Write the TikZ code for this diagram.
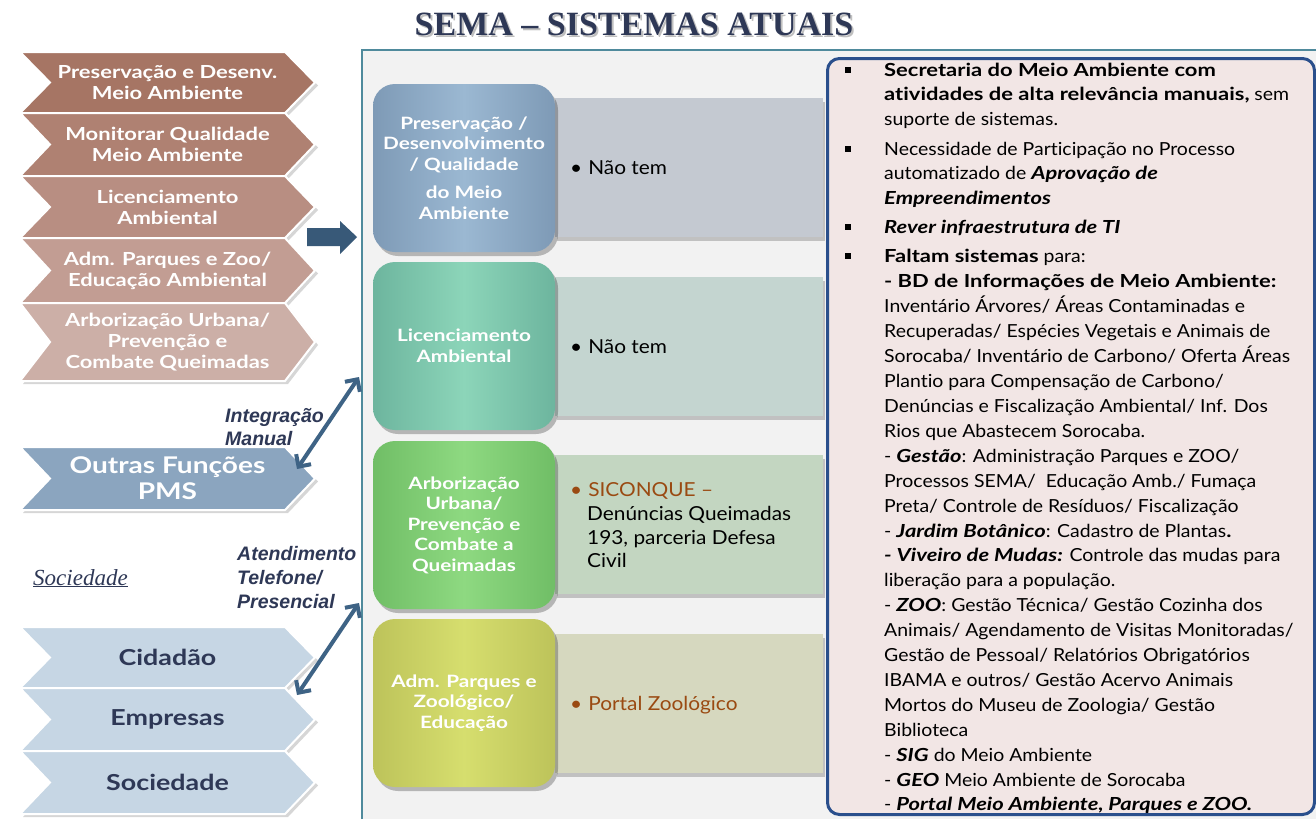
\documentclass[tikz,border=0pt]{standalone}
\usepackage{fontspec}
\setmainfont{Lato}[Ligatures=NoCommon, FakeStretch=1.08, BoldFeatures={FakeStretch=1.22}, BoldItalicFeatures={FakeStretch=1.22}]
\newfontfamily\arialf{Liberation Sans}
\newfontfamily\timesf{Liberation Serif}
\usetikzlibrary{shadows,arrows.meta}
\definecolor{ch1}{HTML}{A67564}
\definecolor{ch2}{HTML}{AF8172}
\definecolor{ch3}{HTML}{B88E82}
\definecolor{ch4}{HTML}{C29D93}
\definecolor{ch5}{HTML}{CCAFA7}
\definecolor{outc}{HTML}{8BA5BF}
\definecolor{lowc}{HTML}{C6D6E4}
\definecolor{navy}{HTML}{2E3856}
\definecolor{arrc}{HTML}{3E6385}
\definecolor{framec}{HTML}{4F8A9C}
\definecolor{boxbd}{HTML}{2A4F8C}
\definecolor{boxbg}{HTML}{F2E6E5}
\definecolor{brownt}{HTML}{9A4A12}
\definecolor{barA}{HTML}{C4C9D1}
\definecolor{barB}{HTML}{C4D5D0}
\definecolor{barC}{HTML}{C3D6C1}
\definecolor{barD}{HTML}{D6D8BF}
\definecolor{s1a}{HTML}{7E9AB6}
\definecolor{s1b}{HTML}{9BB8D2}
\definecolor{s2a}{HTML}{6DB59E}
\definecolor{s2b}{HTML}{8CD5B9}
\definecolor{s3a}{HTML}{70BE66}
\definecolor{s3b}{HTML}{8ED981}
\definecolor{s4a}{HTML}{BDC35A}
\definecolor{s4b}{HTML}{D6DE6E}
\tikzset{
  chevtxt/.style={inner sep=0pt, text=white, align=center, font=\fontsize{18}{21}\selectfont\bfseries},
  chevshape/.style={draw=white, line width=2pt},
  chevshadow/.style={fill=black, opacity=0.16},
  sq/.style={rectangle, rounded corners=22pt, minimum width=182pt, minimum height=168pt,
    inner sep=0pt, align=center, text=white, font=\fontsize{17}{20.5}\selectfont\bfseries,
    drop shadow={shadow xshift=3pt, shadow yshift=-4pt, fill=black, opacity=0.25}},
  bar/.style={rectangle, minimum width=268pt, minimum height=139pt, inner sep=0pt,
    drop shadow={shadow xshift=2pt, shadow yshift=-4pt, fill=black, opacity=0.2}},
  bartxt/.style={anchor=base west, inner sep=0pt, font=\fontsize{19.3}{23}\selectfont, align=left},
  rtxt/.style={anchor=base west, inner sep=0pt, font=\fontsize{18}{21}\selectfont},
  lbl/.style={anchor=base west, inner sep=0pt, text=navy, font=\arialf\fontsize{19.5}{22}\selectfont\bfseries\itshape},
  dbl/.style={draw=arrc, line width=4pt, {Straight Barb[length=9pt,width=18pt]}-{Straight Barb[length=9pt,width=18pt]}},
  sqb/.style={fill=black, minimum size=6pt, inner sep=0pt}
}
% chevron: name, ytop, ybot, fill, extra text style, text
\newcommand\chevron[6]{%
  \fill[chevshadow] (23,#2+3) -- (288,#2+3) -- (318,{(#2+#3)/2+3}) -- (288,#3+3) -- (23,#3+3) -- (53,{(#2+#3)/2+3}) -- cycle;
  \filldraw[chevshape, fill=#4] (20,#2) -- (285,#2) -- (315,{(#2+#3)/2}) -- (285,#3) -- (20,#3) -- (50,{(#2+#3)/2}) -- cycle;
  \node[chevtxt, #5] (#1) at (167.5,{(#2+#3)/2}) {#6};}
\newcommand\rl[3]{\node[rtxt] (#1) at (884,#2) {#3};}
\newcommand\rb[2]{\node[sqb] (#1) at (848,#2) {};}
\begin{document}
\begin{tikzpicture}[x=1pt,y=-1pt]
\useasboundingbox[fill=white] (0,0) rectangle (1316,819);
% frame
\fill[black!5] (362,50) rectangle (1316,819);
\draw[framec, line width=2pt] (362,819) -- (362,50) -- (1316,50);
% title
\node[font=\timesf\fontsize{34}{40}\selectfont\bfseries, text=black, opacity=0.25, anchor=base] (titles) at (636,37) {SEMA – SISTEMAS ATUAIS};
\node[font=\timesf\fontsize{34}{40}\selectfont\bfseries, text=navy, anchor=base] (title) at (634,35) {SEMA – SISTEMAS ATUAIS};
% left chevrons
\chevron{c1}{52}{113}{ch1}{}{Preservação e Desenv.\\Meio Ambiente}
\chevron{c2}{113}{176}{ch2}{}{Monitorar Qualidade\\Meio Ambiente}
\chevron{c3}{176}{238}{ch3}{}{Licenciamento\\Ambiental}
\chevron{c4}{238}{303}{ch4}{}{Adm. Parques e Zoo/\\Educação Ambiental}
\chevron{c5}{303}{381}{ch5}{}{Arborização Urbana/\\Prevenção e\\Combate Queimadas}
% block arrow
\fill[color=arrc!90!black] (307,228) -- (340,228) -- (340,221) -- (357,237) -- (340,254) -- (340,246) -- (307,246) -- cycle;
% outras
\chevron{out}{447}{510}{outc}{font=\fontsize{23}{26}\selectfont\bfseries}{Outras Funções\\PMS}
\node[lbl] (lint1) at (225,422) {Integração};
\node[lbl] (lint2) at (225,445) {Manual};
% lower chevrons
\chevron{cid}{627}{688}{lowc}{text=navy, font=\fontsize{22}{26}\selectfont\bfseries}{Cidadão}
\chevron{emp}{688}{751}{lowc}{text=navy, font=\fontsize{22}{26}\selectfont\bfseries}{Empresas}
\chevron{soc}{751}{814}{lowc}{text=navy, font=\fontsize{22}{26}\selectfont\bfseries}{Sociedade}
\node[anchor=base west, inner sep=0pt, text=navy, font=\timesf\fontsize{23}{26}\selectfont\itshape] (socl) at (33,585) {\underline{Sociedade}};
\node[lbl] (at1) at (237,560) {Atendimento};
\node[lbl] (at2) at (237,584) {Telefone/};
\node[lbl] (at3) at (237,608) {Presencial};
% connectors
\coordinate (a1s) at (297,469);
\coordinate (a1e) at (359,377);
\coordinate (a2s) at (297,695);
\coordinate (a2e) at (359,603);
\draw[dbl] (a1s) -- (a1e);
\draw[dbl] (a2s) -- (a2e);
% bars
\node[bar, fill=barA, anchor=north west] (b1) at (555,98) {};
\node[bar, fill=barB, anchor=north west] (b2) at (555,277) {};
\node[bar, fill=barC, anchor=north west] (b3) at (555,455) {};
\node[bar, fill=barD, anchor=north west] (b4) at (555,634) {};
% squares
\node[sq, left color=s1a, right color=s1a, middle color=s1b] (s1) at (464,168) {Preservação /\\Desenvolvimento\\/ Qualidade\\[8pt]do Meio\\Ambiente};
\node[sq, left color=s2a, right color=s2a, middle color=s2b] (s2) at (464,346) {Licenciamento\\Ambiental};
\node[sq, left color=s3a, right color=s3a, middle color=s3b] (s3) at (464,525) {Arborização\\Urbana/\\Prevenção e\\Combate a\\Queimadas};
\node[sq, left color=s4a, right color=s4a, middle color=s4b] (s4) at (464,703) {Adm. Parques e\\Zoológico/\\Educação};
% bar texts
\node[bartxt] (t1) at (570,174) {\textbullet\hspace{6pt}Não tem};
\node[bartxt] (t2) at (570,353) {\textbullet\hspace{6pt}Não tem};
\node[bartxt, text=brownt] (t3) at (570,496) {\textbullet\hspace{6pt}SICONQUE –};
\node[bartxt] (t3b) at (587,520) {Denúncias Queimadas};
\node[bartxt] (t3c) at (587,544) {193, parceria Defesa};
\node[bartxt] (t3d) at (587,567) {Civil};
\node[bartxt, text=brownt] (t4) at (570,710) {\textbullet\hspace{6pt}Portal Zoológico};
% right box
\node[draw=boxbd, line width=3pt, fill=boxbg, rounded corners=12pt, minimum width=487pt, minimum height=756pt, anchor=north west, inner sep=0pt] (rbox) at (826,57) {};
\rb{q1}{70}\rb{q2}{149}\rb{q3}{227}\rb{q4}{256}
\rl{r1}{76}{\bfseries Secretaria do Meio Ambiente com}
\rl{r2}{100.5}{\textbf{atividades de alta relevância manuais,} sem}
\rl{r3}{125}{suporte de sistemas.}
\rl{r4}{155}{Necessidade de Participação no Processo}
\rl{r5}{179.5}{automatizado de \textbf{\textit{Aprovação de}}}
\rl{r6}{204}{\textbf{\textit{Empreendimentos}}}
\rl{r7}{233}{\textbf{\textit{Rever infraestrutura de TI}}}
\rl{r8}{262}{\textbf{Faltam sistemas} para:}
\rl{r9}{287}{\textbf{- BD de Informações de Meio Ambiente:}}
\rl{r10}{312}{Inventário Árvores/ Áreas Contaminadas e}
\rl{r11}{337}{Recuperadas/ Espécies Vegetais e Animais de}
\rl{r12}{362}{Sorocaba/ Inventário de Carbono/ Oferta Áreas}
\rl{r13}{387}{Plantio para Compensação de Carbono/}
\rl{r14}{412}{Denúncias e Fiscalização Ambiental/ Inf. Dos}
\rl{r15}{437}{Rios que Abastecem Sorocaba.}
\rl{r16}{462}{- \textbf{\textit{Gestão}}: Administração Parques e ZOO/}
\rl{r17}{487}{Processos SEMA/\ \ Educação Amb./ Fumaça}
\rl{r18}{512}{Preta/ Controle de Resíduos/ Fiscalização}
\rl{r19}{537}{- \textbf{\textit{Jardim Botânico}}: Cadastro de Plantas\textbf{.}}
\rl{r20}{561}{\textbf{\textit{- Viveiro de Mudas:}} Controle das mudas para}
\rl{r21}{586}{liberação para a população.}
\rl{r22}{611}{- \textbf{\textit{ZOO}}: Gestão Técnica/ Gestão Cozinha dos}
\rl{r23}{636}{Animais/ Agendamento de Visitas Monitoradas/}
\rl{r24}{661}{Gestão de Pessoal/ Relatórios Obrigatórios}
\rl{r25}{686}{IBAMA e outros/ Gestão Acervo Animais}
\rl{r26}{711}{Mortos do Museu de Zoologia/ Gestão}
\rl{r27}{736}{Biblioteca}
\rl{r28}{761}{- \textbf{\textit{SIG}} do Meio Ambiente}
\rl{r29}{786}{- \textbf{\textit{GEO}} Meio Ambiente de Sorocaba}
\rl{r30}{810}{- \textbf{\textit{Portal Meio Ambiente, Parques e ZOO.}}}
\end{tikzpicture}
\end{document}
